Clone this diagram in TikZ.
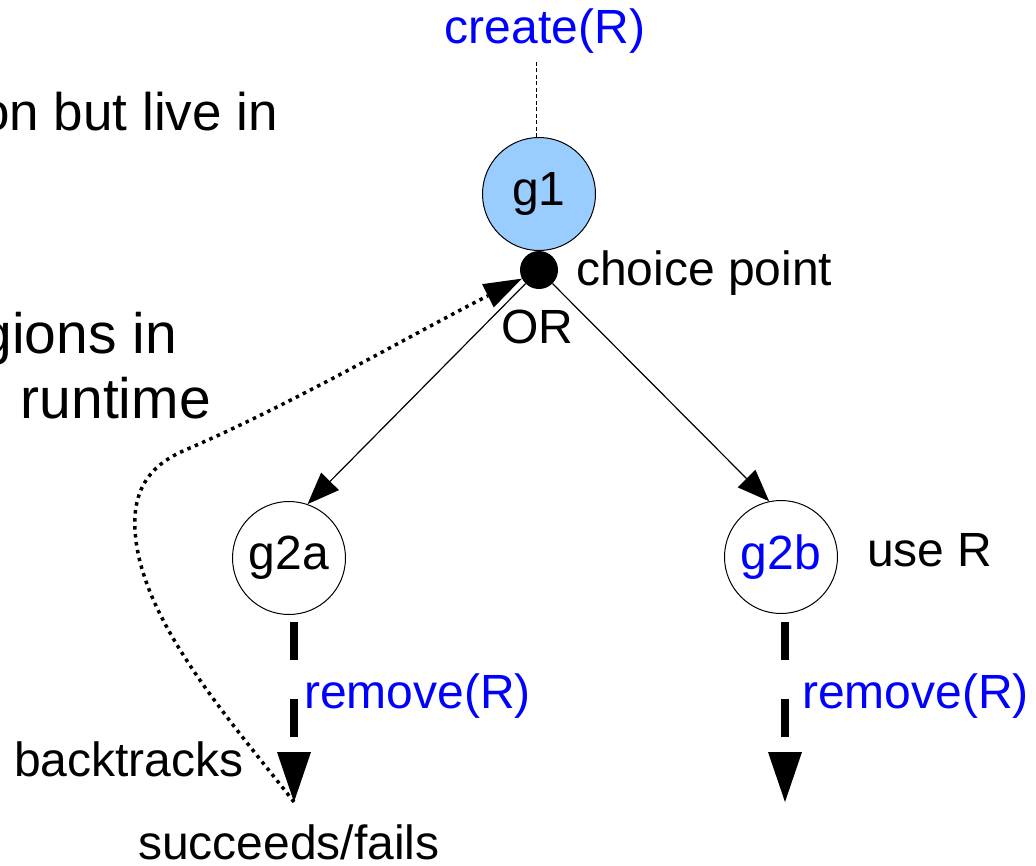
\documentclass[tikz,border=0pt]{standalone}
\usepackage{fontspec}
\setmainfont{Liberation Sans}
\usetikzlibrary{arrows.meta}
\definecolor{goalfill}{HTML}{99CCFF}
\definecolor{actblue}{HTML}{0000FF}
\begin{document}
\begin{tikzpicture}[x=1pt,y=-1pt,
  lbl/.style={inner sep=0pt, font=\fontsize{48}{52}\selectfont},
  big/.style={inner sep=0pt, font=\fontsize{57}{62}\selectfont},
  goal/.style={circle, draw, line width=1pt, minimum size=113pt, inner sep=0pt,
               font=\fontsize{48}{52}\selectfont},
  finedash/.style={line width=1pt, dash pattern=on 4pt off 2.5pt},
  thinarrow/.style={line width=1.2pt, -{Triangle[length=32pt,width=25pt,line width=0pt]}},
  bigarrow/.style={line width=7.3pt, dash pattern=on 38pt off 39pt,
                   -{Triangle[length=50pt,width=34pt,line width=0pt]}},
  backarrow/.style={line width=3.5pt, dash pattern=on 3.5pt off 4.5pt,
                    -{Triangle[length=38pt,width=26pt,line width=0pt]}}
]
\useasboundingbox (0,0) rectangle (1036,865);
\clip (0,0) rectangle (1036,865);

% slide text on the left, running past the left edge
\node[big, anchor=base east, font=\fontsize{53}{58}\selectfont] (t1) at (278,130) {on but live in};
\node[big, anchor=base east] (t2) at (177,353) {gions in};
\node[big, anchor=base east] (t3) at (211,418) {runtime};

% goal tree
\node[goal, fill=goalfill] (g1) at (539,194) {g1};
\node[circle, fill=black, minimum size=38pt, inner sep=0pt] (cp) at (539,270) {};
\node[lbl, anchor=base west] (cplbl) at (576,285) {choice point};
\node[lbl, anchor=base] (or) at (537,343) {OR};
\node[lbl, anchor=base, text=actblue] (create) at (545,43) {create(R)};
\coordinate (ctop) at (536,62);
\draw[finedash] ([xshift=-3pt]g1.north) -- (ctop);

\node[goal] (g2a) at (289,558) {g2a};
\node[goal, text=actblue] (g2b) at (781,557) {g2b};
\node[lbl, anchor=base west] (use) at (867,566) {use R};

\draw[thinarrow] (cp) -- (g2a.71);
\draw[thinarrow] (cp) -- (g2b.102);

% continuation of each branch
\coordinate (endA) at (294,802);
\coordinate (endB) at (785,802);
\draw[bigarrow] ([shift={(5,7)}]g2a.south) -- (endA);
\draw[bigarrow] ([shift={(4,8)}]g2b.south) -- (endB);
\node[lbl, anchor=base west, text=actblue] (remA) at (304,708) {remove(R)};
\node[lbl, anchor=base west, text=actblue] (remB) at (802,708) {remove(R)};

\node[lbl, anchor=base west] (bt) at (14,776) {backtracks};
\node[lbl, anchor=base west] (sf) at (138,859) {succeeds/fails};

% backtracking to the choice point
\draw[backarrow] (endA) .. controls (230,720) and (140,620) .. (135,530)
  .. controls (132,480) and (160,460) .. (190,448)
  .. controls (300,400) and (420,330) .. (cp);
\end{tikzpicture}
\end{document}
